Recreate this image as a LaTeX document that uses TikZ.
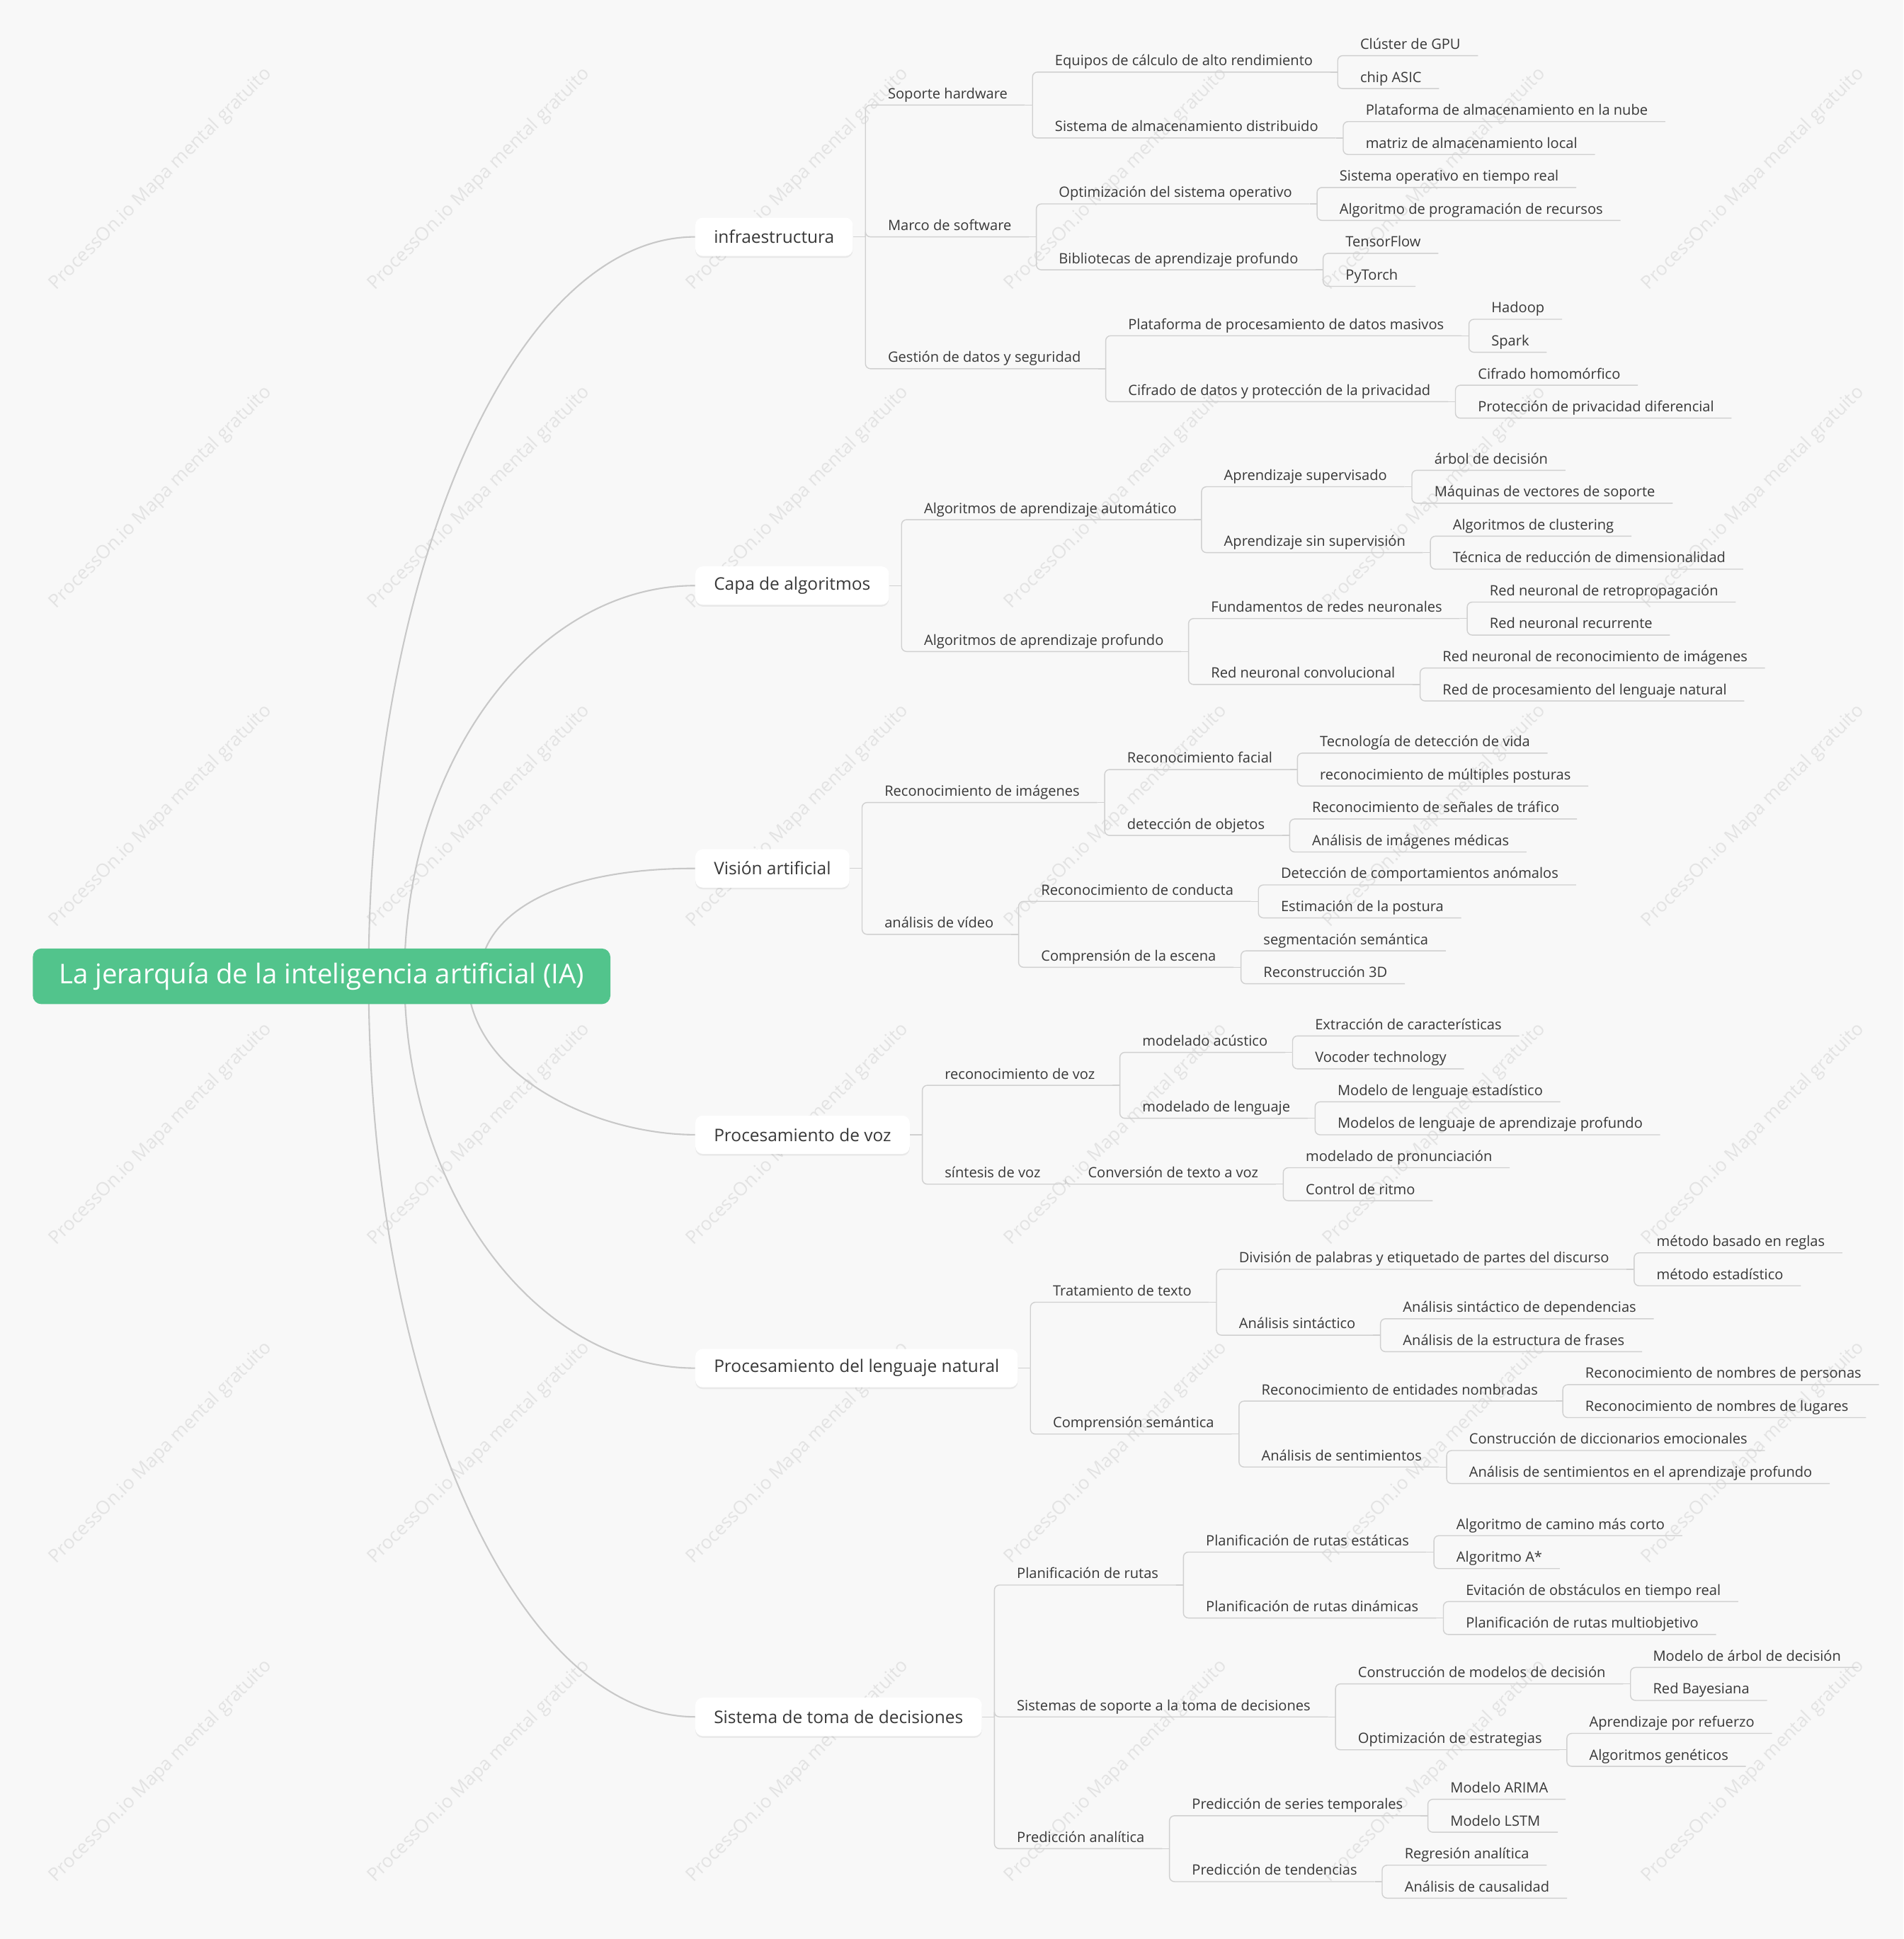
\documentclass[tikz,border=0pt]{standalone}
\usepackage{fontspec}
\setmainfont{Open Sans}
\usetikzlibrary{shadows}
\definecolor{rootgreen}{HTML}{52C48C}
\definecolor{bgcol}{HTML}{F8F8F8}
\definecolor{txtcol}{HTML}{383838}
\definecolor{linecol}{HTML}{D0D0D0}
\definecolor{curvecol}{HTML}{C8C8C8}
\definecolor{wmcol}{HTML}{E3E3E3}
\pgfdeclarelayer{background}
\pgfsetlayers{background,main}
\newcommand{\kids}[2]{%
  \draw[link] (#1.south east) -- ++(6,0);
  \foreach \nd in {#2} \draw[link] ([xshift=6pt]#1.south east) |- (\nd.south east);}

\begin{document}
\begin{tikzpicture}[x=1pt, y=-1pt,
    root/.style={fill=rootgreen, rounded corners=7pt, text=white, font=\fontsize{22}{26}\selectfont,
      minimum width=467pt, minimum height=45pt, inner xsep=4pt},
    topic/.style={anchor=west, fill=white, rounded corners=6pt, text=txtcol, font=\fontsize{14}{17}\selectfont,
      minimum height=31pt, inner xsep=15pt,
      drop shadow={shadow xshift=0pt, shadow yshift=-1.5pt, opacity=.06, fill=black}},
    lbl/.style={anchor=south west, text=txtcol, font=\fontsize{11.5}{14}\selectfont,
      inner xsep=14pt, inner ysep=5pt, text depth=0pt},
    l2/.style={lbl, xshift=14pt},
    l3/.style={lbl, xshift=10pt},
    link/.style={draw=linecol, line width=0.8pt, rounded corners=4pt},
    curve/.style={draw=curvecol, line width=1.2pt},
    wmark/.style={text=wmcol, font=\fontsize{15}{18}\selectfont, rotate=45}]

  \useasboundingbox (0,0) rectangle (1539,1568);
  \begin{pgfonlayer}{background}
    \fill[bgcol] (0,0) rectangle (1539,1568);
    \foreach \i in {0,...,5}
      \foreach \j in {0,...,5}
        \node[wmark] (wm\i\j) at (130+257.5*\i, 145+257.5*\j) {ProcessOn.io Mapa mental gratuito};
  \end{pgfonlayer}

  % root and main branches
  \node[root] (root) at (260,789.5) {La jerarquía de la inteligencia artificial (IA)};
  \node[topic] (infra) at (562,191.55) {infraestructura};
  \node[topic] (alg) at (562,473.55) {Capa de algoritmos};
  \node[topic] (cv) at (562,702.25) {Visión artificial};
  \node[topic] (voz) at (562,917.6) {Procesamiento de voz};
  \node[topic] (nlp) at (562,1106.35) {Procesamiento del lenguaje natural};
  \node[topic] (dss) at (562,1388.35) {Sistema de toma de decisiones};

  % infraestructura
  \node[l2] (sh) at (infra.east |- 0,84.95) {Soporte hardware};
  \node[l2] (ms) at (infra.east |- 0,191.55) {Marco de software};
  \node[l2] (gd) at (infra.east |- 0,298.15) {Gestión de datos y seguridad};
  \node[l3] (eq) at (sh.south east |- 0,58.3) {Equipos de cálculo de alto rendimiento};
  \node[l3] (sa) at (sh.south east |- 0,111.6) {Sistema de almacenamiento distribuido};
  \node[l3] (gpu) at (eq.south east |- 0,45) {Clúster de GPU};
  \node[l3] (asic) at (eq.south east |- 0,71.65) {chip ASIC};
  \node[l3] (nube) at (sa.south east |- 0,98.3) {Plataforma de almacenamiento en la nube};
  \node[l3] (local) at (sa.south east |- 0,124.95) {matriz de almacenamiento local};
  \node[l3] (so) at (ms.south east |- 0,164.9) {Optimización del sistema operativo};
  \node[l3] (bib) at (ms.south east |- 0,218.2) {Bibliotecas de aprendizaje profundo};
  \node[l3] (rt) at (so.south east |- 0,151.6) {Sistema operativo en tiempo real};
  \node[l3] (rec) at (so.south east |- 0,178.25) {Algoritmo de programación de recursos};
  \node[l3] (tf) at (bib.south east |- 0,204.9) {TensorFlow};
  \node[l3] (pt) at (bib.south east |- 0,231.55) {PyTorch};
  \node[l3] (big) at (gd.south east |- 0,271.5) {Plataforma de procesamiento de datos masivos};
  \node[l3] (cif) at (gd.south east |- 0,324.8) {Cifrado de datos y protección de la privacidad};
  \node[l3] (hd) at (big.south east |- 0,258.2) {Hadoop};
  \node[l3] (spk) at (big.south east |- 0,284.85) {Spark};
  \node[l3] (hom) at (cif.south east |- 0,311.5) {Cifrado homomórfico};
  \node[l3] (dp) at (cif.south east |- 0,338.15) {Protección de privacidad diferencial};

  % Capa de algoritmos
  \node[l2] (ml) at (alg.east |- 0,420.25) {Algoritmos de aprendizaje automático};
  \node[l2] (dl) at (alg.east |- 0,526.85) {Algoritmos de aprendizaje profundo};
  \node[l3] (sup) at (ml.south east |- 0,393.6) {Aprendizaje supervisado};
  \node[l3] (uns) at (ml.south east |- 0,446.9) {Aprendizaje sin supervisión};
  \node[l3] (tree) at (sup.south east |- 0,380.3) {árbol de decisión};
  \node[l3] (svm) at (sup.south east |- 0,406.95) {Máquinas de vectores de soporte};
  \node[l3] (clu) at (uns.south east |- 0,433.6) {Algoritmos de clustering};
  \node[l3] (dim) at (uns.south east |- 0,460.25) {Técnica de reducción de dimensionalidad};
  \node[l3] (nn) at (dl.south east |- 0,500.2) {Fundamentos de redes neuronales};
  \node[l3] (cnn) at (dl.south east |- 0,553.5) {Red neuronal convolucional};
  \node[l3] (bp) at (nn.south east |- 0,486.9) {Red neuronal de retropropagación};
  \node[l3] (rnn) at (nn.south east |- 0,513.55) {Red neuronal recurrente};
  \node[l3] (img) at (cnn.south east |- 0,540.2) {Red neuronal de reconocimiento de imágenes};
  \node[l3] (nlpnet) at (cnn.south east |- 0,566.85) {Red de procesamiento del lenguaje natural};

  % Vision artificial
  \node[l2] (ri) at (cv.east |- 0,648.95) {Reconocimiento de imágenes};
  \node[l2] (av) at (cv.east |- 0,755.55) {análisis de vídeo};
  \node[l3] (face) at (ri.south east |- 0,622.3) {Reconocimiento facial};
  \node[l3] (obj) at (ri.south east |- 0,675.6) {detección de objetos};
  \node[l3] (live) at (face.south east |- 0,609) {Tecnología de detección de vida};
  \node[l3] (pose) at (face.south east |- 0,635.65) {reconocimiento de múltiples posturas};
  \node[l3] (sig) at (obj.south east |- 0,662.3) {Reconocimiento de señales de tráfico};
  \node[l3] (med) at (obj.south east |- 0,688.95) {Análisis de imágenes médicas};
  \node[l3] (beh) at (av.south east |- 0,728.9) {Reconocimiento de conducta};
  \node[l3] (sce) at (av.south east |- 0,782.2) {Comprensión de la escena};
  \node[l3] (abn) at (beh.south east |- 0,715.6) {Detección de comportamientos anómalos};
  \node[l3] (est) at (beh.south east |- 0,742.25) {Estimación de la postura};
  \node[l3] (seg) at (sce.south east |- 0,768.9) {segmentación semántica};
  \node[l3] (rtd) at (sce.south east |- 0,795.55) {Reconstrucción 3D};

  % Procesamiento de voz
  \node[l2] (rv) at (voz.east |- 0,877.65) {reconocimiento de voz};
  \node[l2] (sv) at (voz.east |- 0,957.6) {síntesis de voz};
  \node[l3] (ac) at (rv.south east |- 0,851) {modelado acústico};
  \node[l3] (lm) at (rv.south east |- 0,904.3) {modelado de lenguaje};
  \node[l3] (feat) at (ac.south east |- 0,837.7) {Extracción de características};
  \node[l3] (voc) at (ac.south east |- 0,864.35) {Vocoder technology};
  \node[l3] (stat) at (lm.south east |- 0,891) {Modelo de lenguaje estadístico};
  \node[l3] (deep) at (lm.south east |- 0,917.65) {Modelos de lenguaje de aprendizaje profundo};
  \node[l3] (tts) at (sv.south east |- 0,957.6) {Conversión de texto a voz};
  \node[l3] (pron) at (tts.south east |- 0,944.3) {modelado de pronunciación};
  \node[l3] (rit) at (tts.south east |- 0,970.95) {Control de ritmo};

  % Procesamiento del lenguaje natural
  \node[l2] (tt) at (nlp.east |- 0,1053.05) {Tratamiento de texto};
  \node[l2] (cs) at (nlp.east |- 0,1159.65) {Comprensión semántica};
  \node[l3] (div) at (tt.south east |- 0,1026.4) {División de palabras y etiquetado de partes del discurso};
  \node[l3] (syn) at (tt.south east |- 0,1079.7) {Análisis sintáctico};
  \node[l3] (rule) at (div.south east |- 0,1013.1) {método basado en reglas};
  \node[l3] (mst) at (div.south east |- 0,1039.75) {método estadístico};
  \node[l3] (dep) at (syn.south east |- 0,1066.4) {Análisis sintáctico de dependencias};
  \node[l3] (fra) at (syn.south east |- 0,1093.05) {Análisis de la estructura de frases};
  \node[l3] (ner) at (cs.south east |- 0,1133) {Reconocimiento de entidades nombradas};
  \node[l3] (sen) at (cs.south east |- 0,1186.3) {Análisis de sentimientos};
  \node[l3] (per) at (ner.south east |- 0,1119.7) {Reconocimiento de nombres de personas};
  \node[l3] (lug) at (ner.south east |- 0,1146.35) {Reconocimiento de nombres de lugares};
  \node[l3] (dic) at (sen.south east |- 0,1173) {Construcción de diccionarios emocionales};
  \node[l3] (sdl) at (sen.south east |- 0,1199.65) {Análisis de sentimientos en el aprendizaje profundo};

  % Sistema de toma de decisiones
  \node[l2] (pr) at (dss.east |- 0,1281.75) {Planificación de rutas};
  \node[l2] (ss) at (dss.east |- 0,1388.35) {Sistemas de soporte a la toma de decisiones};
  \node[l2] (pa) at (dss.east |- 0,1494.95) {Predicción analítica};
  \node[l3] (pre) at (pr.south east |- 0,1255.1) {Planificación de rutas estáticas};
  \node[l3] (prd) at (pr.south east |- 0,1308.4) {Planificación de rutas dinámicas};
  \node[l3] (short) at (pre.south east |- 0,1241.8) {Algoritmo de camino más corto};
  \node[l3] (astar) at (pre.south east |- 0,1268.45) {Algoritmo A*};
  \node[l3] (obs) at (prd.south east |- 0,1295.1) {Evitación de obstáculos en tiempo real};
  \node[l3] (multi) at (prd.south east |- 0,1321.75) {Planificación de rutas multiobjetivo};
  \node[l3] (cmd) at (ss.south east |- 0,1361.7) {Construcción de modelos de decisión};
  \node[l3] (oe) at (ss.south east |- 0,1415) {Optimización de estrategias};
  \node[l3] (adt) at (cmd.south east |- 0,1348.4) {Modelo de árbol de decisión};
  \node[l3] (bay) at (cmd.south east |- 0,1375.05) {Red Bayesiana};
  \node[l3] (rl) at (oe.south east |- 0,1401.7) {Aprendizaje por refuerzo};
  \node[l3] (ga) at (oe.south east |- 0,1428.35) {Algoritmos genéticos};
  \node[l3] (ts) at (pa.south east |- 0,1468.3) {Predicción de series temporales};
  \node[l3] (tr) at (pa.south east |- 0,1521.6) {Predicción de tendencias};
  \node[l3] (arima) at (ts.south east |- 0,1455) {Modelo ARIMA};
  \node[l3] (lstm) at (ts.south east |- 0,1481.65) {Modelo LSTM};
  \node[l3] (regr) at (tr.south east |- 0,1508.3) {Regresión analítica};
  \node[l3] (caus) at (tr.south east |- 0,1534.95) {Análisis de causalidad};

  % elbow connectors
  \foreach \tp/\list in {infra/{sh,ms,gd}, alg/{ml,dl}, cv/{ri,av}, voz/{rv,sv}, nlp/{tt,cs}, dss/{pr,ss,pa}} {
    \draw[link] (\tp.east) -- ++(10,0);
    \foreach \nd in \list \draw[link] ([xshift=10pt]\tp.east) |- (\nd.south east);
  }
  \kids{sh}{eq,sa} \kids{eq}{gpu,asic} \kids{sa}{nube,local}
  \kids{ms}{so,bib} \kids{so}{rt,rec} \kids{bib}{tf,pt}
  \kids{gd}{big,cif} \kids{big}{hd,spk} \kids{cif}{hom,dp}
  \kids{ml}{sup,uns} \kids{sup}{tree,svm} \kids{uns}{clu,dim}
  \kids{dl}{nn,cnn} \kids{nn}{bp,rnn} \kids{cnn}{img,nlpnet}
  \kids{ri}{face,obj} \kids{face}{live,pose} \kids{obj}{sig,med}
  \kids{av}{beh,sce} \kids{beh}{abn,est} \kids{sce}{seg,rtd}
  \kids{rv}{ac,lm} \kids{ac}{feat,voc} \kids{lm}{stat,deep}
  \kids{sv}{tts} \kids{tts}{pron,rit}
  \kids{tt}{div,syn} \kids{div}{rule,mst} \kids{syn}{dep,fra}
  \kids{cs}{ner,sen} \kids{ner}{per,lug} \kids{sen}{dic,sdl}
  \kids{pr}{pre,prd} \kids{pre}{short,astar} \kids{prd}{obs,multi}
  \kids{ss}{cmd,oe} \kids{cmd}{adt,bay} \kids{oe}{rl,ga}
  \kids{pa}{ts,tr} \kids{ts}{arima,lstm} \kids{tr}{regr,caus}

  % curves from the root, behind it
  \begin{pgfonlayer}{background}
    \draw[curve] ([xshift=38pt]root.center) .. controls +(0,-329) and +(-146,0) .. (infra.west);
    \draw[curve] ([xshift=67pt]root.center) .. controls +(0,-174) and +(-129,0) .. (alg.west);
    \draw[curve] ([xshift=128pt]root.center) .. controls +(0,-44.5) and +(-122,0) .. (cv.west);
    \draw[curve] ([xshift=118pt]root.center) .. controls +(0,80) and +(-80,0) .. (voz.west);
    \draw[curve] ([xshift=67pt]root.center) .. controls +(0,174) and +(-129,0) .. (nlp.west);
    \draw[curve] ([xshift=38pt]root.center) .. controls +(0,330) and +(-146,0) .. (dss.west);
  \end{pgfonlayer}
\end{tikzpicture}
\end{document}
